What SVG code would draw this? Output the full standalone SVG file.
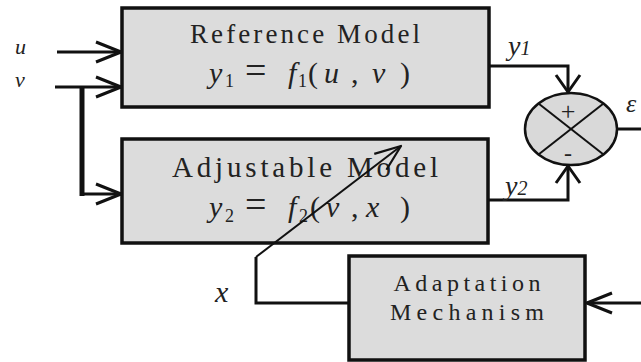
<svg xmlns="http://www.w3.org/2000/svg" width="641" height="362" viewBox="0 0 641 362">
<style>
.box{fill:#dcdcdc;stroke:#111;stroke-width:3.5}
.ln{fill:none;stroke:#111;stroke-width:3}
.thin{fill:none;stroke:#111;stroke-width:2}
text{fill:#222;font-family:"Liberation Serif","Times New Roman","DejaVu Serif",serif}
.i{font-style:italic}
</style>
<defs>
<marker id="arr" markerUnits="userSpaceOnUse" markerWidth="30" markerHeight="24" viewBox="0 0 30 24" refX="27" refY="12" orient="auto">
<path d="M2,2 L27,12 L2,22" fill="none" stroke="#111" stroke-width="3" stroke-linejoin="round"/>
</marker>
<marker id="arrs" markerUnits="userSpaceOnUse" markerWidth="22" markerHeight="28" viewBox="0 0 22 28" refX="19" refY="14" orient="auto">
<path d="M2,2 L19,14 L2,26" fill="none" stroke="#111" stroke-width="3" stroke-linejoin="round"/>
</marker>
<marker id="arrt" markerUnits="userSpaceOnUse" markerWidth="30" markerHeight="24" viewBox="0 0 30 24" refX="28" refY="12" orient="auto">
<path d="M2,2 L28,12 L2,22" fill="none" stroke="#111" stroke-width="2.2" stroke-linejoin="round"/>
</marker>
</defs>
<rect width="641" height="362" fill="#fff"/>

<g id="reference-model">
<rect class="box" x="122" y="8" width="367" height="99"/>
<text x="305" y="43" font-size="27" text-anchor="middle" textLength="230" lengthAdjust="spacing">Reference Model</text>
<text y="83" font-size="30"><tspan class="i" x="209">y</tspan><tspan x="225" dy="4" font-size="18">1</tspan><tspan x="245" dy="-4" font-size="38">=</tspan><tspan class="i" x="288">f</tspan><tspan x="298" dy="4" font-size="18">1</tspan><tspan x="308" dy="-4">(</tspan><tspan class="i" x="324">u</tspan><tspan x="351">,</tspan><tspan class="i" x="372">v</tspan><tspan x="400">)</tspan></text>
</g>

<g id="adjustable-model">
<rect class="box" x="122" y="139" width="366" height="104"/>
<text x="305" y="177" font-size="29" text-anchor="middle" textLength="266" lengthAdjust="spacing">Adjustable Model</text>
<text y="217" font-size="30"><tspan class="i" x="209">y</tspan><tspan x="225" dy="5" font-size="18">2</tspan><tspan x="245" dy="-5" font-size="38">=</tspan><tspan class="i" x="288">f</tspan><tspan x="299" dy="5" font-size="18">2</tspan><tspan x="310" dy="-5">(</tspan><tspan class="i" x="326">v</tspan><tspan x="351">,</tspan><tspan class="i" x="366">x</tspan><tspan x="400">)</tspan></text>
</g>

<g id="adaptation-mechanism">
<rect class="box" x="349" y="256" width="236" height="104"/>
<text x="467" y="291" font-size="24" text-anchor="middle" textLength="147" lengthAdjust="spacing">Adaptation</text>
<text x="467" y="320" font-size="24" text-anchor="middle" textLength="154" lengthAdjust="spacing">Mechanism</text>
</g>

<g id="summing-junction">
<ellipse cx="571" cy="129" rx="46" ry="36" fill="#d9d9d9" stroke="#111" stroke-width="2.5"/>
<line class="thin" x1="538.5" y1="103.5" x2="603.5" y2="154.5"/>
<line class="thin" x1="603.5" y1="103.5" x2="538.5" y2="154.5"/>
<text x="568" y="120" font-size="26" text-anchor="middle">+</text>
<text x="568" y="161" font-size="24" text-anchor="middle">-</text>
</g>

<g id="connectors">
<line class="ln" x1="57" y1="52" x2="121" y2="52" marker-end="url(#arr)"/>
<line class="ln" x1="55" y1="87" x2="121" y2="87" marker-end="url(#arr)"/>
<line x1="82" y1="86" x2="82" y2="196" stroke="#111" stroke-width="5"/>
<line class="ln" x1="80" y1="194" x2="121" y2="194" marker-end="url(#arr)"/>
<polyline class="ln" points="489,66 568,66 568,92" marker-end="url(#arrs)"/>
<polyline class="ln" points="489,200 568,200 568,166" marker-end="url(#arrs)"/>
<line class="ln" x1="617" y1="129" x2="641" y2="129"/>
<line class="ln" x1="641" y1="303" x2="587" y2="303" marker-end="url(#arr)"/>
<polyline class="ln" points="349,303 256,303 256,257"/>
<line class="thin" x1="256" y1="257" x2="401" y2="146" marker-end="url(#arrt)"/>
</g>

<g id="labels">
<text class="i" x="15" y="54" font-size="22">u</text>
<text class="i" x="15" y="87" font-size="22">v</text>
<text class="i" x="508" y="55" font-size="28">y<tspan font-size="20">1</tspan></text>
<text class="i" x="505" y="195" font-size="28">y<tspan font-size="20">2</tspan></text>
<text class="i" x="626" y="112" font-size="26">ε</text>
<text class="i" x="215" y="302" font-size="30">x</text>
</g>
</svg>
